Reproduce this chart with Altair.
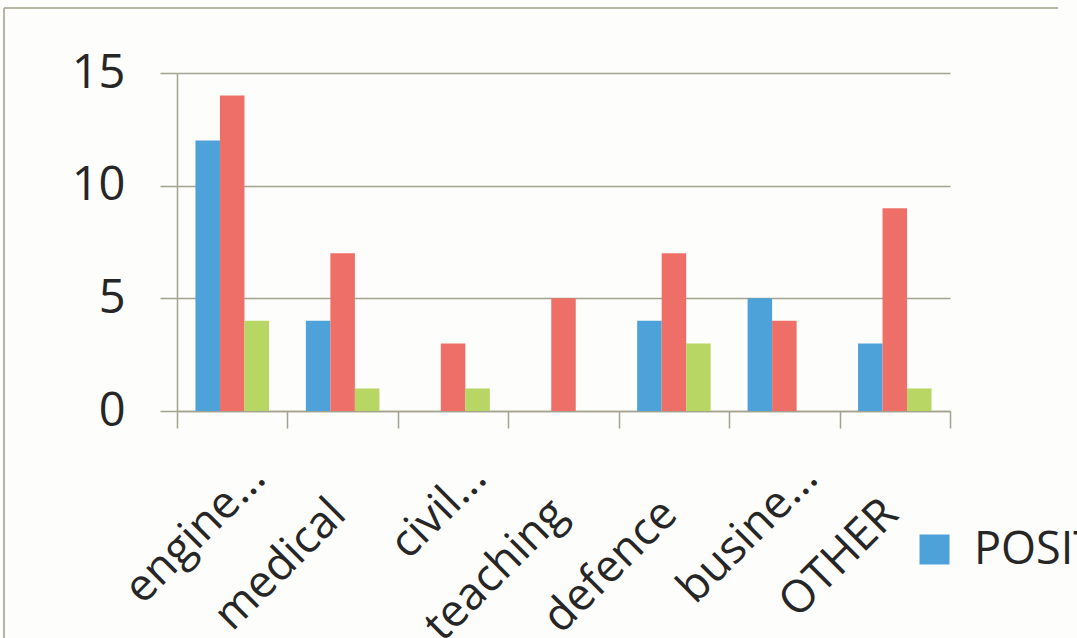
import altair as alt
import pandas as pd

categories = ["engine...", "medical", "civil...", "teaching", "defence", "busine...", "OTHER"]
series = ["POSITIVE", "NEGATIVE", "NEUTRAL"]
positive = [12, 4, 0, 0, 4, 5, 3]
negative = [14, 7, 3, 5, 7, 4, 9]
neutral = [4, 1, 1, 0, 3, 0, 1]
colors = ["#4ea2da", "#ee6f67", "#b8d663"]
y_ticks = [0, 5, 10, 15]

rows = []
for name, vals in zip(series, [positive, negative, neutral]):
    for c, v in zip(categories, vals):
        rows.append({"category": c, "series": name, "value": v})
df = pd.DataFrame(rows)

FONT = "Open Sans"
TXT = "#262626"
LINE = "#a3a38f"

W, H = 773, 338
PL, PT = 177, 73

bars = alt.Chart(df).mark_bar(stroke=None).encode(
    x=alt.X("category:N", sort=categories, title=None,
            scale=alt.Scale(paddingInner=0, paddingOuter=0),
            axis=alt.Axis(
                labelAngle=-45, labelAlign="right", labelBaseline="alphabetic",
                labelFont=FONT, labelFontSize=45, labelColor=TXT, labelLimit=0,
                labelOffset={"condition": {"test": "indexof(datum.label, '...') >= 0", "value": 35}, "value": 5},
                labelPadding={"condition": {"test": "indexof(datum.label, '...') >= 0", "value": 52}, "value": 88},
                tickBand="extent", tickSize=17, tickColor=LINE, tickWidth=1.5,
                domainColor=LINE, domainWidth=1.5, grid=False)),
    xOffset=alt.XOffset("series:N", sort=series,
                        scale=alt.Scale(domain=series, paddingInner=0, paddingOuter=0.753)),
    y=alt.Y("value:Q", title=None,
            scale=alt.Scale(domain=[0, 15], nice=False),
            axis=alt.Axis(values=y_ticks, labelFont=FONT, labelFontSize=47, labelColor=TXT,
                          labelPadding=35, tickSize=17, tickColor=LINE, tickWidth=1.5,
                          domainColor=LINE, domainWidth=1.5,
                          gridColor=LINE, gridWidth=1.5)),
    color=alt.Color("series:N", sort=series,
                    scale=alt.Scale(domain=series, range=colors),
                    legend=alt.Legend(values=["POSITIVE"], title=None, orient="none",
                                      legendX=735, legendY=454, padding=0,
                                      symbolType="square", symbolSize=900, symbolStrokeWidth=0,
                                      labelFont=FONT, labelFontSize=45, labelColor=TXT,
                                      labelOffset=17, labelLimit=0)),
)

frame_top = alt.Chart(df).mark_rule(color="#b6b6a2", strokeWidth=2).encode(
    x=alt.value(4 - PL), x2=alt.value(1058 - PL), y=alt.value(8 - PT))
frame_left = alt.Chart(df).mark_rule(color="#b6b6a2", strokeWidth=2).encode(
    x=alt.value(4 - PL), y=alt.value(8 - PT), y2=alt.value(638 - PT))

chart = alt.layer(frame_top, frame_left, bars).properties(
    width=W, height=H,
    autosize=alt.AutoSizeParams(type="none"),
    padding={"left": PL, "top": PT, "right": 1077 - PL - W, "bottom": 638 - PT - H},
    background="#fdfdfb",
).configure_view(stroke=None)

chart.save("out.html", embed_options={"renderer": "svg", "actions": False})
